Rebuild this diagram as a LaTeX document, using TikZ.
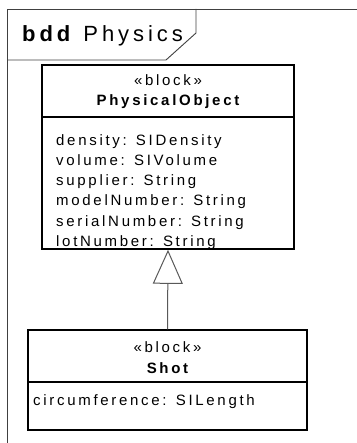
\documentclass[tikz,border=0pt]{standalone}
\usepackage{fontspec}
\setmainfont{Liberation Sans}[LetterSpace=18]
\usetikzlibrary{arrows.meta}
\tikzset{
  blockbox/.style={draw=black, line width=1.6pt, inner sep=0pt},
  btxt/.style={anchor=base, inner sep=0pt, font=\fontsize{15}{18}\selectfont},
  atxt/.style={anchor=base west, inner sep=0pt, font=\fontsize{15}{18}\selectfont},
  framel/.style={draw=black!75, line width=0.9pt},
  gen/.style={draw=black!65, line width=1pt, -{Triangle[open, length=34pt, width=30pt, fill=white]}},
}
\begin{document}
\begin{tikzpicture}[x=1pt,y=-1pt]
\useasboundingbox (0,0) rectangle (356,443);
% frame
\coordinate (fTL) at (7,9);
\coordinate (fTR) at (357,9);
\coordinate (fBL) at (7,444);
\draw[framel] (fBL) -- (fTL) -- (fTR);
\coordinate (t1) at (7,60);
\coordinate (t2) at (166,60);
\coordinate (t3) at (196,33);
\coordinate (t4) at (196,9);
\draw[framel] (t1) -- (t2) -- (t3) -- (t4);
\node[anchor=base west, inner sep=0pt, font=\fontsize{22}{26}\selectfont] (title) at (22,42) {\textbf{bdd}\hspace{9pt}Physics};
% PhysicalObject block
\node[blockbox, minimum width=252pt, minimum height=184pt] (po) at (168,157) {};
\draw[blockbox] (po.west |- 0,117) -- (po.east |- 0,117);
\node[btxt] (poS) at (168,86) {«block»};
\node[btxt, font=\fontsize{15}{18}\selectfont\bfseries] (poN) at (168,106) {PhysicalObject};
\node[atxt] (a1) at (56,146) {density: SIDensity};
\node[atxt] (a2) at (56,166) {volume: SIVolume};
\node[atxt] (a3) at (56,186) {supplier: String};
\node[atxt] (a4) at (56,206) {modelNumber: String};
\node[atxt] (a5) at (56,226) {serialNumber: String};
\node[atxt] (a6) at (56,246) {lotNumber: String};
% Shot block
\node[blockbox, line width=1.3pt, minimum width=279pt, minimum height=100pt] (shot) at (167.5,380) {};
\draw[blockbox, line width=1.3pt] (shot.west |- 0,382) -- (shot.east |- 0,382);
\node[btxt] (shS) at (167.5,352) {«block»};
\node[btxt, font=\fontsize{15}{18}\selectfont\bfseries] (shN) at (167.5,373) {Shot};
\node[atxt] (b1) at (33,405) {circumference: SILength};
% generalization
\draw[gen] (shot.north) -- (po.south);
\end{tikzpicture}
\end{document}
